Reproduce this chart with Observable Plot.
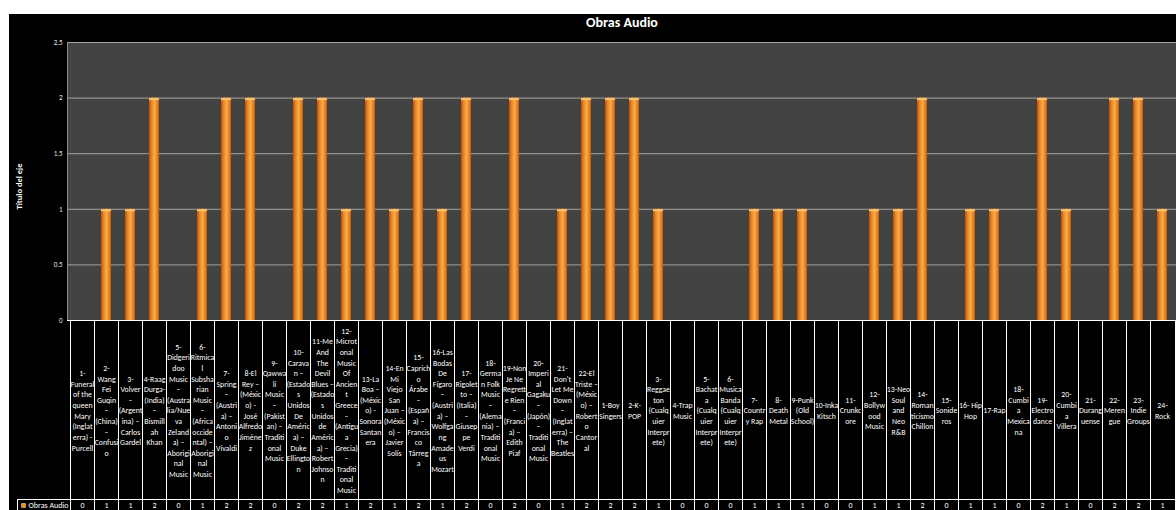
<!DOCTYPE html>
<html><head><meta charset="utf-8">
<script src="https://cdn.jsdelivr.net/npm/d3@7"></script>
<script src="https://cdn.jsdelivr.net/npm/@observablehq/plot@0.6"></script>
<style>
body{margin:0;background:#fff;width:1176px;height:510px;overflow:hidden;}
#chart{position:absolute;left:9px;top:14px;}
</style></head><body><div id="chart"></div>
<script>
const title = "Obras Audio";
const seriesName = "Obras Audio";
const yLabel = "Título del eje";
const yTicks = [0, 0.5, 1, 1.5, 2, 2.5];

const categories = [
  "1-\nFuneral\nof the\nqueen\nMary\n(Inglat\nerra) -\nPurcell",
  "2-\nWang\nFei\nGuqin\n–\n(China)\n–\nConfusi\no",
  "3-\nVolver\n–\n(Argent\nina) –\nCarlos\nGardel",
  "4-Raag\nDurga-\n(India)\n–\nBismill\nah\nKhan",
  "5-\nDidgeri\ndoo\nMusic\n–\n(Austra\nlia/Nue\nva\nZeland\na) –\nAborigi\nnal\nMusic",
  "6-\nRitmica\nl\nSubsha\nrian\nMusic\n–\n(Africa\noccide\nntal) –\nAborigi\nnal\nMusic",
  "7-\nSpring\n–\n(Austri\na) –\nAntoni\no\nVivaldi",
  "8-El\nRey –\n(Méxic\no) -\nJosé\nAlfredo\nJiméne\nz",
  "9-\nQawwa\nli\nMusic\n–\n(Pakist\nan) –\nTraditi\nonal\nMusic",
  "10-\nCarava\nn –\n(Estado\ns\nUnidos\nDe\nAméric\na) –\nDuke\nEllingto\nn",
  "11-Me\nAnd\nThe\nDevil\nBlues –\n(Estado\ns\nUnidos\nde\nAméric\na) –\nRobert\nJohnso\nn",
  "12-\nMicrot\nonal\nMusic\nOf\nAncien\nt\nGreece\n–\n(Antigu\na\nGrecia)\n–\nTraditi\nonal\nMusic",
  "13-La\nBoa –\n(Méxic\no) -\nSonora\nSantan\nera",
  "14-En\nMi\nViejo\nSan\nJuan –\n(Méxic\no) –\nJavier\nSolís",
  "15-\nCaprich\no\nÁrabe\n–\n(Españ\na) –\nFrancis\nco\nTárreg\na",
  "16-Las\nBodas\nDe\nFígaro\n–\n(Austri\na) –\nWolfga\nng\nAmade\nus\nMozart",
  "17-\nRigolet\nto –\n(Italia)\n–\nGiusep\npe\nVerdi",
  "18-\nGerma\nn Folk\nMusic\n–\n(Alema\nnia) –\nTraditi\nonal\nMusic",
  "19-Non\nJe Ne\nRegrett\ne Rien\n–\n(Franci\na) –\nEdith\nPiaf",
  "20-\nImperi\nal\nGagaku\n–\n(Japón)\n–\nTraditi\nonal\nMusic",
  "21-\nDon't\nLet Me\nDown\n–\n(Inglat\nerra) –\nThe\nBeatles",
  "22-El\nTriste –\n(Méxic\no) –\nRobert\no\nCantor\nal",
  "1-Boy\nSingers",
  "2-K-\nPOP",
  "3-\nReggae\nton\n(Cualq\nuier\nInterpr\nete)",
  "4-Trap\nMusic",
  "5-\nBachat\na\n(Cualq\nuier\nInterpr\nete)",
  "6-\nMusica\nBanda\n(Cualq\nuier\nInterpr\nete)",
  "7-\nCountr\ny Rap",
  "8-\nDeath\nMetal",
  "9-Punk\n(Old\nSchool)",
  "10-Inka\nKitsch",
  "11-\nCrunkc\nore",
  "12-\nBollyw\nood\nMusic",
  "13-Neo\nSoul\nand\nNeo\nR&B",
  "14-\nRoman\nticismo\nChillon",
  "15-\nSonide\nros",
  "16- Hip\nHop",
  "17-Rap",
  "18-\nCumbi\na\nMexica\nna",
  "19-\nElectro\ndance",
  "20-\nCumbi\na\nVillera",
  "21-\nDurang\nuense",
  "22-\nMeren\ngue",
  "23-\nIndie\nGroups",
  "24-\nRock"
];

const values = [
  0, 1, 1, 2, 0, 1, 2, 2, 0, 2,
  2, 1, 2, 1, 2, 1, 2, 0, 2, 0,
  1, 2, 2, 2, 1, 0, 0, 0, 1, 1,
  1, 0, 0, 1, 1, 2, 0, 1, 1, 0,
  2, 1, 0, 2, 2, 1
];

const data = categories.map((c, i) => ({category: c, value: values[i]}));
const font = "Carlito, Calibri, 'Liberation Sans Narrow', Lato, 'Liberation Sans', sans-serif";

const defs = () => {
  const d = d3.create("svg:defs");
  const g = d.append("linearGradient").attr("id", "barGrad")
    .attr("x1", 0).attr("x2", 1).attr("y1", 0).attr("y2", 0);
  [[0, "#b5560f"], [0.3, "#f28a24"], [0.55, "#fba846"], [0.8, "#ee8624"], [1, "#b9590f"]]
    .forEach(([o, c]) => g.append("stop").attr("offset", o).attr("stop-color", c));
  return d.node();
};

const tableGrid = (index, scales, vals, dims) => {
  const x = scales.x;
  const top = dims.height - dims.marginBottom;
  const bottom = dims.height;
  const rowY = top + 179;
  const left = dims.marginLeft, right = dims.width - dims.marginRight;
  const g = d3.create("svg:g").attr("stroke", "#fff").attr("stroke-width", 1).attr("fill", "none");
  const px = v => Math.round(v) + 0.5;
  categories.forEach(c => {
    const x0 = px(x(c));
    g.append("line").attr("x1", x0).attr("x2", x0).attr("y1", top).attr("y2", bottom);
  });
  g.append("line").attr("x1", right - 0.5).attr("x2", right - 0.5).attr("y1", top).attr("y2", bottom);
  g.append("line").attr("x1", left).attr("x2", right).attr("y1", px(top)).attr("y2", px(top));
  g.append("line").attr("x1", left - 50).attr("x2", right).attr("y1", px(rowY)).attr("y2", px(rowY));
  g.append("line").attr("x1", px(left - 50)).attr("x2", px(left - 50)).attr("y1", rowY).attr("y2", bottom);
  return g.node();
};

const chart = Plot.plot({
  width: 1167, height: 496,
  marginLeft: 58, marginRight: 0, marginTop: 28, marginBottom: 190,
  style: {background: "#000", fontFamily: font, overflow: "visible"},
  x: {domain: categories, padding: 0, axis: null},
  y: {domain: [0, 2.5], axis: null},
  marks: [
    defs,
    Plot.frame({fill: "#434343", stroke: "#8a8a8a"}),
    Plot.gridY(yTicks, {stroke: "#a3a3a3", strokeOpacity: 1}),
    Plot.axisY(yTicks, {tickSize: 0, tickPadding: 5, fontSize: 7, fill: "#e6e6e6", tickFormat: d => String(d), label: null}),
    Plot.barY(data, {x: "category", y: "value", fill: "url(#barGrad)", insetLeft: 7, insetRight: 7}),
    Plot.tickY(data.filter(d => d.value > 0), {x: "category", y: "value", stroke: "#fcc46a", strokeWidth: 2, insetLeft: 7, insetRight: 7, dy: 1}),
    tableGrid,
    Plot.text(data, {x: "category", text: "category", frameAnchor: "bottom", lineAnchor: "middle", dy: 89.5, fill: "#fff", fontSize: 7.8, lineHeight: 1.36}),
    Plot.text(data, {x: "category", text: "value", frameAnchor: "bottom", lineAnchor: "middle", dy: 185, fill: "#fff", fontSize: 8}),
    Plot.text([seriesName], {frameAnchor: "bottom-left", lineAnchor: "middle", dx: -39, dy: 185, textAnchor: "start", fill: "#fff", fontSize: 8}),
    Plot.dot([seriesName], {frameAnchor: "bottom-left", dx: -44, dy: 185, symbol: "square", r: 2.2, fill: "#f28a24", stroke: "#ffd9a0", strokeWidth: 0.6}),
    Plot.text([title], {frameAnchor: "top", lineAnchor: "middle", dy: -20, fill: "#fff", fontSize: 14, fontWeight: "bold"}),
    Plot.text([yLabel], {frameAnchor: "left", lineAnchor: "middle", dx: -48, dy: 28, rotate: -90, fill: "#fff", fontSize: 8.5, fontWeight: 600, letterSpacing: "0.6px"})
  ]
});
document.getElementById("chart").appendChild(chart);
</script>
</body></html>
